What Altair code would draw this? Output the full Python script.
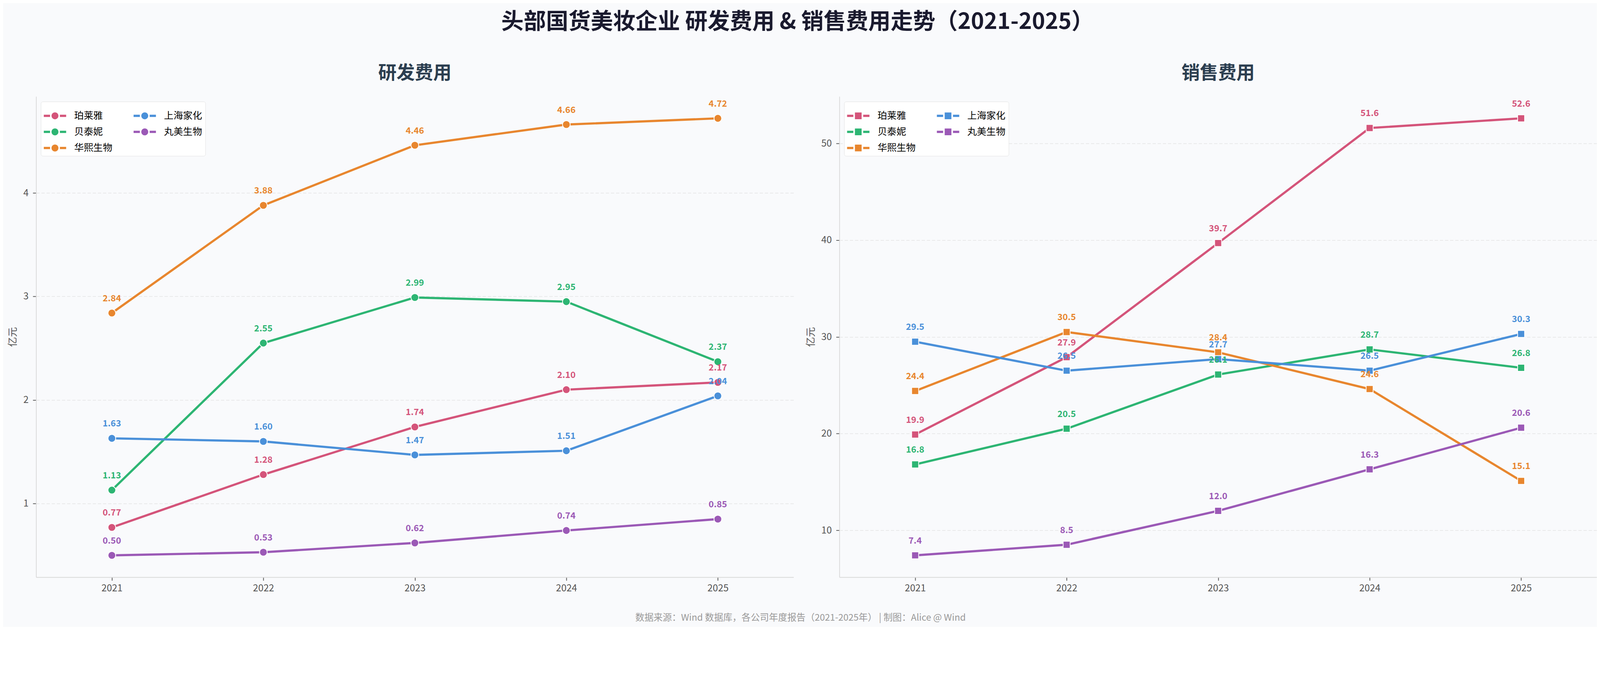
import altair as alt
import pandas as pd

FONT = "Noto Sans CJK SC"

years = [2021, 2022, 2023, 2024, 2025]
companies = ["珀莱雅", "贝泰妮", "华熙生物", "上海家化", "丸美生物"]
colors = ["#D4547A", "#2DB573", "#E8862E", "#4A90D9", "#9B59B6"]

# 研发费用 (亿元)
rd_proya = [0.77, 1.28, 1.74, 2.10, 2.17]
rd_botanee = [1.13, 2.55, 2.99, 2.95, 2.37]
rd_bloomage = [2.84, 3.88, 4.46, 4.66, 4.72]
rd_jahwa = [1.63, 1.60, 1.47, 1.51, 2.04]
rd_marubi = [0.50, 0.53, 0.62, 0.74, 0.85]

# 销售费用 (亿元)
sales_proya = [19.9, 27.9, 39.7, 51.6, 52.6]
sales_botanee = [16.8, 20.5, 26.1, 28.7, 26.8]
sales_bloomage = [24.4, 30.5, 28.4, 24.6, 15.1]
sales_jahwa = [29.5, 26.5, 27.7, 26.5, 30.3]
sales_marubi = [7.4, 8.5, 12.0, 16.3, 20.6]

rd_ticks = [1, 2, 3, 4]
sales_ticks = [10, 20, 30, 40, 50]

title_main = "头部国货美妆企业 研发费用 & 销售费用走势（2021-2025）"
title_rd = "研发费用"
title_sales = "销售费用"
y_title = "亿元"
footer = "数据来源：Wind 数据库，各公司年度报告（2021-2025年） | 制图：Alice @ Wind"


def long_df(series):
    rows = []
    for name, vals in zip(companies, series):
        for y, v in zip(years, vals):
            rows.append({"company": name, "year": y, "value": v})
    return pd.DataFrame(rows)


rd_df = long_df([rd_proya, rd_botanee, rd_bloomage, rd_jahwa, rd_marubi])
sales_df = long_df([sales_proya, sales_botanee, sales_bloomage, sales_jahwa, sales_marubi])

dom = companies
rng = colors

SIDE = "M-1,-0.1L-0.44,-0.1L-0.44,0.1L-1,0.1Z M0.44,-0.1L1,-0.1L1,0.1L0.44,0.1Z "
circle_sym = SIDE + "M0.31,0A0.31,0.31,0,1,1,-0.31,0A0.31,0.31,0,1,1,0.31,0Z"
square_sym = SIDE + "M-0.3,-0.3L0.3,-0.3L0.3,0.3L-0.3,0.3Z"

W, H = 2067, 1311


def panel(df, title, ydomain, yticks, fmt, shape, size, sym):
    x = alt.X("year:Q",
              scale=alt.Scale(domain=[2020.5, 2025.5], nice=False, zero=False),
              axis=alt.Axis(values=years, format="d", title=None, grid=False))
    y = alt.Y("value:Q",
              scale=alt.Scale(domain=ydomain, nice=False, zero=False),
              axis=alt.Axis(values=yticks, format="d", title=y_title, grid=True))
    base = alt.Chart(df).encode(x=x, y=y)
    line = base.mark_line(strokeWidth=6).encode(
        stroke=alt.Stroke("company:N", scale=alt.Scale(domain=dom, range=rng), legend=None))
    pts = base.mark_point(shape=shape, filled=True, size=size, stroke="white",
                          strokeWidth=2, opacity=1).encode(
        color=alt.Color("company:N", scale=alt.Scale(domain=dom, range=rng),
                        legend=alt.Legend(title=None, orient="none", legendX=13, legendY=14,
                                          columns=2, symbolType=sym, symbolSize=3721,
                                          symbolStrokeWidth=0, symbolOpacity=1,
                                          labelFont=FONT, labelFontSize=26, labelColor="#000000",
                                          labelOffset=22, columnPadding=57, rowPadding=0,
                                          padding=8, fillColor="#ffffff", strokeColor="#e0e0e0",
                                          cornerRadius=5)))
    txt = base.mark_text(dy=-32, fontSize=24, fontWeight="bold", font=FONT,
                         baseline="alphabetic").encode(
        text=alt.Text("value:Q", format=fmt),
        fill=alt.Fill("company:N", scale=alt.Scale(domain=dom, range=rng), legend=None))
    return alt.layer(line, pts, txt).properties(
        width=W, height=H,
        title=alt.TitleParams(title, fontSize=50, fontWeight="bold", color="#2c3e50",
                              font=FONT, anchor="middle", offset=38))


left = panel(rd_df, title_rd, [0.289, 4.931], rd_ticks, ".2f", "circle", 441, circle_sym)
right = panel(sales_df, title_sales, [5.14, 54.86], sales_ticks, ".1f", "square", 361, square_sym)

inner = alt.hconcat(left, right, spacing=125, bounds="flush").resolve_scale(
    color="independent").resolve_legend(color="independent").properties(
    title=alt.TitleParams(footer, orient="bottom", fontSize=25, fontWeight="normal",
                          color="#999999", font=FONT, anchor="middle", offset=56, dx=-5))

chart = alt.vconcat(inner).properties(
    title=alt.TitleParams(title_main, fontSize=61, fontWeight="bold", color="#1a1a2e",
                          font=FONT, anchor="middle", offset=83, dx=-13),
    padding={"left": 12, "top": -31, "right": 0, "bottom": -41},
    background="#f9fafc",
).configure_view(stroke=None).configure_axis(
    labelFont=FONT, labelFontSize=26, labelColor="#555555",
    titleFont=FONT, titleFontSize=27, titleColor="#555555", titleFontWeight="normal",
    tickColor="#555555", tickSize=9, tickWidth=2,
    domainColor="#d9d9d9", domainWidth=2,
    gridColor="#e4e4e4", gridDash=[9, 5], gridWidth=1.6,
).configure_axisX(labelPadding=8).configure_axisY(labelPadding=12, titlePadding=14)

chart.save("out.html", embed_options={"renderer": "svg", "actions": False})
